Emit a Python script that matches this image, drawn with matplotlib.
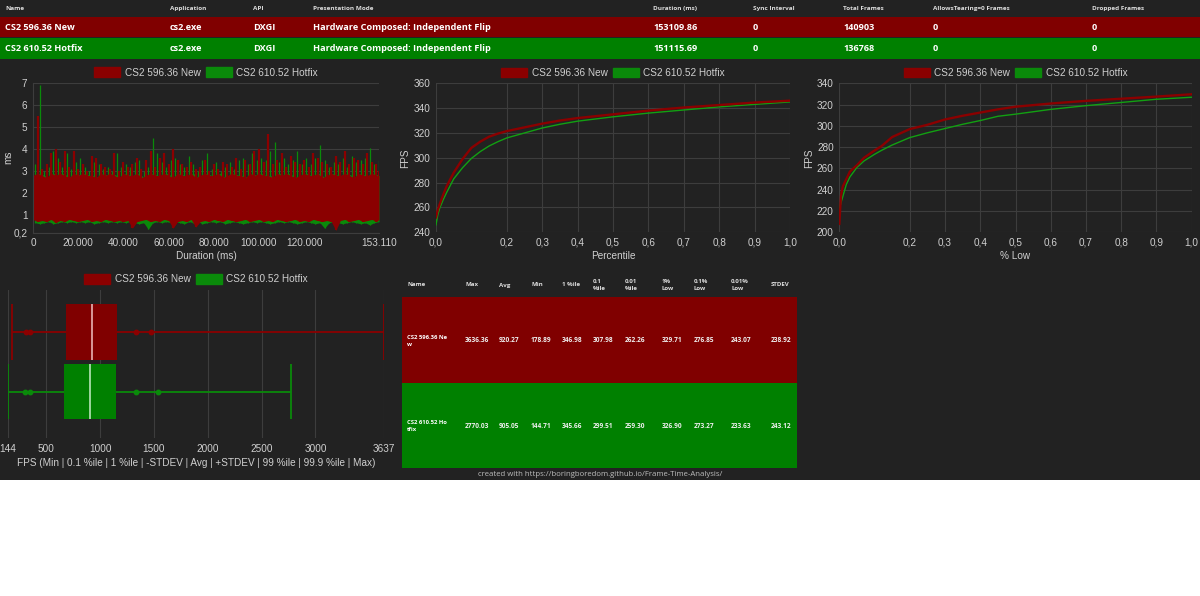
import matplotlib
matplotlib.use("Agg")
import matplotlib.pyplot as plt
from matplotlib.patches import Rectangle, Patch
import numpy as np

# ---------------- data ----------------
series_names = ["CS2 596.36 New", "CS2 610.52 Hotfix"]
red = "#800000"
green = "#008000"

# top info table
info_headers = ["Name", "Application", "API", "Presentation Mode", "Duration (ms)",
                "Sync Interval", "Total Frames", "AllowsTearing=0 Frames", "Dropped Frames"]
info_rows = [
    ["CS2 596.36 New", "cs2.exe", "DXGI", "Hardware Composed: Independent Flip",
     "153109.86", "0", "140903", "0", "0"],
    ["CS2 610.52 Hotfix", "cs2.exe", "DXGI", "Hardware Composed: Independent Flip",
     "151115.69", "0", "136768", "0", "0"],
]

# frametime envelope samples (time in s)
ft_time_s = [0, 2, 4, 6, 8, 10, 12, 14, 16, 18,
             20, 22, 24, 26, 28, 30, 32, 34, 36, 38,
             40, 42, 44, 46, 48, 50, 52, 54, 56, 58,
             60, 62, 64, 66, 68, 70, 72, 74, 76, 78,
             80, 82, 84, 86, 88, 90, 92, 94, 96, 98,
             100, 102, 104, 106, 108, 110, 112, 114, 116, 118,
             120, 122, 124, 126, 128, 130, 132, 134, 136, 138,
             140, 142, 144, 146, 148, 150, 152, 153.11]
red_hi = [3.5, 5.5, 3.1, 3.3, 3.8, 4.0, 3.4, 3.9, 3.2, 3.9,
          3.1, 3.3, 3.0, 3.7, 3.6, 3.3, 3.2, 3.1, 3.8, 3.0,
          3.4, 3.2, 3.3, 3.6, 3.1, 3.5, 3.9, 3.2, 3.6, 3.8,
          3.3, 4.0, 3.5, 3.3, 3.2, 3.4, 3.1, 3.2, 3.5, 3.0,
          3.3, 3.1, 3.4, 3.3, 3.2, 3.6, 3.1, 3.5, 3.3, 3.9,
          4.0, 3.4, 4.7, 3.3, 3.5, 3.8, 3.2, 3.7, 3.4, 3.3,
          3.5, 3.2, 3.8, 3.6, 3.4, 3.3, 3.2, 3.7, 3.4, 3.9,
          3.3, 3.6, 3.5, 3.3, 3.8, 3.4, 3.3, 3.0]
green_hi = [3.3, 6.9, 3.0, 3.2, 3.9, 3.6, 3.2, 3.8, 3.1, 3.4,
            3.6, 3.2, 3.0, 3.4, 3.3, 3.1, 3.2, 3.0, 3.8, 3.2,
            3.3, 3.2, 3.4, 3.5, 3.0, 3.2, 4.5, 3.8, 3.4, 3.2,
            3.5, 3.6, 3.3, 3.2, 3.7, 3.3, 3.0, 3.5, 3.8, 3.1,
            3.4, 3.0, 3.2, 3.4, 3.1, 3.5, 3.6, 3.3, 3.8, 3.5,
            3.6, 3.5, 3.9, 4.3, 3.4, 3.6, 3.3, 3.5, 3.9, 3.3,
            3.6, 3.3, 3.6, 4.2, 3.5, 3.2, 3.4, 3.3, 3.6, 3.2,
            3.7, 3.4, 3.5, 3.6, 4.05, 3.3, 3.5, 2.9]
band_top = [2.8, 2.9, 2.8, 2.7, 2.9, 2.8, 2.9, 2.8, 2.7, 2.9,
            2.8, 2.9, 2.8, 2.8, 2.7, 2.9, 2.8, 2.9, 2.8, 2.7,
            2.9, 2.8, 2.8, 2.9, 2.7, 2.8, 2.9, 2.8, 2.8, 2.9,
            2.8, 2.7, 2.9, 2.8, 2.8, 2.9, 2.7, 2.8, 2.9, 2.8,
            2.8, 2.9, 2.7, 2.8, 2.9, 2.8, 2.8, 2.7, 2.9, 2.8,
            2.9, 2.8, 2.8, 2.7, 2.9, 2.8, 2.9, 2.8, 2.7, 2.8,
            2.9, 2.8, 2.8, 2.9, 2.7, 2.8, 2.9, 2.8, 2.8, 2.9,
            2.8, 2.7, 2.9, 2.8, 2.8, 2.9, 2.8, 2.8]
red_lo = [0.8, 0.7, 0.75, 0.7, 0.8, 0.65, 0.75, 0.7, 0.8, 0.75,
          0.7, 0.75, 0.8, 0.7, 0.75, 0.7, 0.8, 0.75, 0.7, 0.75,
          0.7, 0.75, 0.4, 0.7, 0.75, 0.8, 0.7, 0.75, 0.7, 0.8,
          0.75, 0.4, 0.7, 0.75, 0.7, 0.8, 0.45, 0.7, 0.75, 0.7,
          0.8, 0.75, 0.7, 0.8, 0.75, 0.7, 0.75, 0.8, 0.7, 0.75,
          0.8, 0.7, 0.75, 0.7, 0.8, 0.75, 0.7, 0.75, 0.8, 0.7,
          0.75, 0.7, 0.8, 0.75, 0.7, 0.75, 0.7, 0.3, 0.75, 0.8,
          0.7, 0.75, 0.8, 0.7, 0.75, 0.8, 0.7, 0.8]
green_lo = [0.65, 0.6, 0.65, 0.7, 0.6, 0.65, 0.7, 0.65, 0.7, 0.65,
            0.7, 0.65, 0.7, 0.6, 0.65, 0.7, 0.65, 0.7, 0.65, 0.7,
            0.65, 0.7, 0.65, 0.6, 0.65, 0.35, 0.65, 0.7, 0.65, 0.7,
            0.65, 0.7, 0.65, 0.6, 0.7, 0.65, 0.7, 0.6, 0.65, 0.7,
            0.65, 0.7, 0.6, 0.65, 0.7, 0.65, 0.6, 0.65, 0.7, 0.65,
            0.7, 0.65, 0.6, 0.65, 0.7, 0.65, 0.7, 0.65, 0.6, 0.65,
            0.7, 0.65, 0.6, 0.65, 0.4, 0.65, 0.7, 0.65, 0.6, 0.65,
            0.7, 0.65, 0.6, 0.65, 0.55, 0.65, 0.7, 0.65]
ft_xticks = [0, 20000, 40000, 60000, 80000, 100000, 120000, 153110]
ft_xticklabels = ["0", "20.000", "40.000", "60.000", "80.000", "100.000", "120.000", "153.110"]
ft_yticks = [0.2, 1, 2, 3, 4, 5, 6, 7]
ft_yticklabels = ["0,2", "1", "2", "3", "4", "5", "6", "7"]

# percentile chart
pct_x = [0, 0.005, 0.01, 0.02, 0.03, 0.05, 0.075, 0.1, 0.125, 0.15, 0.175,
         0.2, 0.25, 0.3, 0.35, 0.4, 0.5, 0.6, 0.7, 0.8, 0.9, 1.0]
pct_red = [252, 258, 262.3, 270, 277, 288, 299, 308, 313, 317, 319.5,
           321.5, 324.5, 327.5, 330, 332, 335, 338, 340.5, 342.5, 344.5, 346]
pct_green = [246, 254, 259.1, 266, 272, 283, 292, 299.5, 305, 309.5, 313,
             316, 320, 324, 327, 329.5, 333, 336, 338.5, 341, 343, 345]

# % low chart
low_x = [0, 0.005, 0.01, 0.02, 0.03, 0.05, 0.07, 0.1, 0.12, 0.15, 0.2, 0.25,
         0.3, 0.35, 0.4, 0.45, 0.5, 0.6, 0.7, 0.8, 0.9, 1.0]
low_red = [208, 235, 243.1, 250, 257, 263, 270, 276.9, 281, 289.5, 297, 301,
           306, 309.5, 312.5, 315.5, 318, 321, 323.5, 325.5, 327.5, 329.7]
low_green = [222, 228, 233.6, 245, 252, 261, 267, 273.3, 277, 282, 289, 293.5,
             297.5, 301.5, 305, 309, 311, 315.5, 319, 322, 325, 326.9]

xticks01 = [0.0, 0.2, 0.3, 0.4, 0.5, 0.6, 0.7, 0.8, 0.9, 1.0]
xticks01_labels = ["0,0", "0,2", "0,3", "0,4", "0,5", "0,6", "0,7", "0,8", "0,9", "1,0"]

# box plot values: min, 0.1%ile, 1%ile, -STDEV, avg, +STDEV, 99%ile, 99.9%ile, max
box_red = dict(mn=178.89, p01=307.98, p1=346.98, lo=681.35, avg=920.27, hi=1159.19,
               p99=1330, p999=1470, mx=3636.36)
box_green = dict(mn=144.71, p01=299.51, p1=345.66, lo=661.93, avg=905.05, hi=1148.17,
                 p99=1330, p999=1540, mx=2770.03)
box_xticks = [144, 500, 1000, 1500, 2000, 2500, 3000, 3637]

# stats table
stat_headers = ["Name", "Max", "Avg", "Min", "1 %ile", "0.1\n%ile", "0.01\n%ile",
                "1%\nLow", "0.1%\nLow", "0.01%\nLow", "STDEV"]
stat_names = ["CS2 596.36 Ne\nw", "CS2 610.52 Ho\ntfix"]
stat_values = [
    ["3636.36", "920.27", "178.89", "346.98", "307.98", "262.26", "329.71", "276.85", "243.07", "238.92"],
    ["2770.03", "905.05", "144.71", "345.66", "299.51", "259.30", "326.90", "273.27", "233.63", "243.12"],
]
footer = "created with https://boringboredom.github.io/Frame-Time-Analysis/"

# ---------------- style ----------------
W, H = 1200, 596
BG = "#222222"
GRID = "#3d3d3d"
TXT = "#d0d0d0"
CF = ["Liberation Sans", "DejaVu Sans"]
TF = ["Open Sans", "DejaVu Sans"]
plt.rcParams["font.family"] = CF

fig = plt.figure(figsize=(W / 100, H / 100), dpi=100, facecolor="white")

bg = fig.add_axes([0, 0, 1, 1], zorder=0)
bg.set_xlim(0, W)
bg.set_ylim(H, 0)
bg.axis("off")
bg.add_patch(Rectangle((0, 0), W, 480, color=BG, lw=0))

# top table
info_x = [5, 170, 253, 313, 653, 753, 843, 933, 1092]
bg.add_patch(Rectangle((0, 16.5), W, 20.5, color=red, lw=0))
bg.add_patch(Rectangle((0, 38), W, 20.5, color=green, lw=0))
for x, h in zip(info_x, info_headers):
    bg.text(x, 8.5, h, fontsize=4.6, color="#dddddd", fontweight="bold",
            family=TF, va="center", ha="left")
for ry, row in zip([27, 48.5], info_rows):
    for x, v in zip(info_x, row):
        bg.text(x, ry, v, fontsize=6.6, color="white", fontweight="bold",
                family=TF, va="center", ha="left")

# stats table
sx0, sx1 = 402, 797
bg.add_patch(Rectangle((sx0, 297), sx1 - sx0, 86, color=red, lw=0))
bg.add_patch(Rectangle((sx0, 383), sx1 - sx0, 85, color=green, lw=0))
stat_x = [407, 465, 499, 531, 562, 593, 625, 662, 694, 731, 771]
for x, h in zip(stat_x, stat_headers):
    bg.text(x, 285, h, fontsize=4.4, color="#dddddd", fontweight="bold",
            family=TF, va="center", ha="left", linespacing=1.6)
for ry, nm, vals in zip([341, 426], stat_names, stat_values):
    bg.text(stat_x[0], ry, nm, fontsize=4.2, color="white", fontweight="bold",
            family=TF, va="center", ha="left", linespacing=1.7)
    for x, v in zip(stat_x[1:], vals):
        bg.text(x, ry, v, fontsize=4.7, color="#f0f0f0", fontweight="bold",
                family=TF, va="center", ha="left")
bg.text(600, 474.5, footer, fontsize=5.6, color="#bdbdbd", ha="center", va="center", family=TF)


def fr(x0, y0, x1, y1):
    return [x0 / W, 1 - y1 / H, (x1 - x0) / W, (y1 - y0) / H]


def style(ax, vgrid=True, hgrid=True):
    ax.set_facecolor(BG)
    for s in ax.spines.values():
        s.set_visible(False)
    ax.tick_params(colors=TXT, labelsize=7.2, length=0, pad=4)
    if hgrid:
        ax.grid(True, axis="y", color=GRID, lw=0.8)
    if vgrid:
        ax.grid(True, axis="x", color=GRID, lw=0.8)
    ax.set_axisbelow(True)


def legend(ax):
    handles = [Patch(facecolor="#8b0000", edgecolor="#8b0000"),
               Patch(facecolor="#0a8a0a", edgecolor="#0a8a0a")]
    ax.legend(handles, series_names, loc="lower center", bbox_to_anchor=(0.5, 1.0),
              ncol=2, frameon=False, fontsize=7.2, labelcolor=TXT, handlelength=2.6,
              handleheight=1.1, handletextpad=0.45, columnspacing=0.5, borderaxespad=0.15)


# chart 1: frametimes
ax1 = fig.add_axes(fr(33, 83, 379, 232.6), zorder=1)
style(ax1, vgrid=False)
t_red = [t * 1000 for t in ft_time_s]
t_green = [t * 1000 + 1000 for t in ft_time_s[:-1]] + [153110]
ax1.fill_between(t_green, green_lo, band_top, color="#0a8a0a", lw=0, zorder=1.0)
ax1.vlines(t_green, green_lo, green_hi, color="#0a8a0a", lw=0.9, zorder=1.1)
ax1.fill_between(t_red, red_lo, band_top, color="#8b0000", lw=0, zorder=1.2)
ax1.vlines(t_red, red_lo, red_hi, color="#8b0000", lw=1.6, zorder=1.3)
ax1.set_xlim(0, 153110)
ax1.set_ylim(0.2, 7)
ax1.set_xticks(ft_xticks)
ax1.set_xticklabels(ft_xticklabels)
ax1.set_yticks(ft_yticks)
ax1.set_yticklabels(ft_yticklabels)
ax1.spines["left"].set_visible(True)
ax1.spines["left"].set_color(GRID)
ax1.spines["bottom"].set_visible(True)
ax1.spines["bottom"].set_color(GRID)
ax1.set_xlabel("Duration (ms)", color=TXT, fontsize=7.2, labelpad=2)
ax1.set_ylabel("ms", color=TXT, fontsize=7.2)
ax1.yaxis.set_label_coords(-0.058, 0.5)
legend(ax1)

# chart 2: percentile
ax2 = fig.add_axes(fr(436, 83.3, 790, 232.3), zorder=1)
style(ax2)
ax2.plot(pct_x, pct_green, color="#12a012", lw=1.0)
ax2.plot(pct_x, pct_red, color="#8b0000", lw=1.7)
ax2.set_xlim(0, 1)
ax2.set_ylim(240, 360)
ax2.set_xticks(xticks01)
ax2.set_xticklabels(xticks01_labels)
ax2.set_yticks(range(240, 361, 20))
ax2.set_xlabel("Percentile", color=TXT, fontsize=7.2, labelpad=2)
ax2.set_ylabel("FPS", color=TXT, fontsize=7.2)
ax2.yaxis.set_label_coords(-0.072, 0.5)
legend(ax2)

# chart 3: % low
ax3 = fig.add_axes(fr(839.3, 83.3, 1191.7, 232.3), zorder=1)
style(ax3)
ax3.plot(low_x, low_green, color="#12a012", lw=1.0)
ax3.plot(low_x, low_red, color="#8b0000", lw=1.7)
ax3.set_xlim(0, 1)
ax3.set_ylim(200, 340)
ax3.set_xticks(xticks01)
ax3.set_xticklabels(xticks01_labels)
ax3.set_yticks(range(200, 341, 20))
ax3.set_xlabel("% Low", color=TXT, fontsize=7.2, labelpad=2)
ax3.set_ylabel("FPS", color=TXT, fontsize=7.2)
ax3.yaxis.set_label_coords(-0.072, 0.5)
legend(ax3)

# chart 4: box plot
ax4 = fig.add_axes(fr(8, 290, 384, 438), zorder=1)
style(ax4, hgrid=False)
half = 0.46
for yc, b, fc, lc, mc in [(1, box_red, red, "#8b0000", "#e8b4b4"),
                          (0, box_green, green, "#0a8a0a", "#b8e6b8")]:
    ax4.hlines(yc, b["mn"], b["mx"], color=lc, lw=1.3, zorder=2)
    ax4.vlines([b["mn"], b["mx"]], yc - half, yc + half, color=lc, lw=1.3, zorder=2)
    ax4.plot([b["p01"], b["p1"], b["p99"], b["p999"]], [yc] * 4, "o", color=lc, ms=3.2, zorder=3)
    ax4.barh(yc, b["hi"] - b["lo"], left=b["lo"], height=2 * half, color=fc, lw=0, zorder=4)
    ax4.vlines(b["avg"], yc - half, yc + half, color=mc, lw=1.2, zorder=5)
ax4.set_xlim(144, 3637)
ax4.set_ylim(-0.77, 1.70)
ax4.set_yticks([])
ax4.set_xticks(box_xticks)
ax4.set_xlabel("FPS (Min | 0.1 %ile | 1 %ile | -STDEV | Avg | +STDEV | 99 %ile | 99.9 %ile | Max)",
               color=TXT, fontsize=7.2, labelpad=3)
legend(ax4)

fig.savefig("out.png", dpi=100, facecolor="white")
